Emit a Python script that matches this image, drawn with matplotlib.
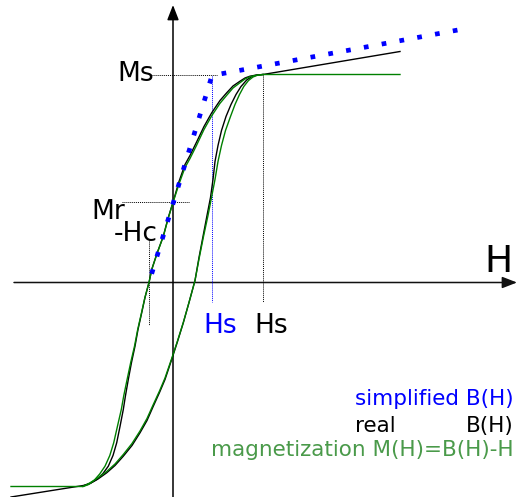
import matplotlib
matplotlib.use("Agg")
import matplotlib.pyplot as plt

# ---- data (H, B in drawing units; origin at the axes crossing) ----
real_desc_H = [227, 90, 82, 77, 72, 67, 60, 53.7, 47, 38.7, 31, 23.7, 17, 12, 6, 0.3, -5, -9.7, -16,
               -21.3, -24, -28, -31.3, -35, -38, -41.5, -44.7, -47.5, -49.7, -53, -56.3, -60, -64.7,
               -70, -76.3, -83, -89.7, -162]
real_desc_B = [231, 208, 207.2, 206.3, 204.5, 201.3, 196.5, 189.7, 182, 169.7, 156, 140.7, 127, 118,
               101, 81.3, 64, 46.3, 29, 13, 0, -15, -30.3, -47, -63.7, -80, -97, -113, -127, -144,
               -160.3, -173, -183.7, -191, -197, -201, -203, -214.5]

real_asc_H = [-90, -83, -75, -66.3, -58, -49.7, -41, -33, -26, -19.7, -13.5, -8, -1.3, 4.5, 10.3, 16,
              22, 26, 30, 34, 37.5, 40, 42, 45, 48.5, 53, 58, 63, 68, 73.7, 79, 84, 90]
real_asc_B = [-203.5, -201, -196.5, -190.3, -183, -173.7, -163, -150.3, -138, -123.7, -110, -97, -77,
              -59, -40.3, -20, 2, 25, 46, 67, 85, 103, 121, 137, 152, 166, 178, 188, 196, 202.5, 206,
              207.5, 208]

mag_desc_H = [227, 90, 82, 77, 72, 67, 60, 53.7, 47, 38.7, 31, 23.7, 17, 12, 6, 0, -5, -9.7, -16,
              -21.2, -24, -28.1, -31.5, -35.3, -38.5, -42.3, -45.9, -49.2, -51.7, -55.6, -59.3, -63.2,
              -68, -73.3, -79, -85, -90, -162]
mag_desc_B = [208, 208, 207, 205.8, 203.5, 199.8, 194.5, 187.2, 179.2, 166.7, 153, 137.5, 124, 115,
              98.5, 80, 63.5, 46, 29, 13, 0, -15, -30.3, -47, -63.7, -80, -97, -113, -127, -144,
              -160.3, -173, -183.7, -191.5, -198, -202.3, -204, -204]

mag_asc_H = [-90, -83, -75, -66.3, -58, -49.7, -41, -33, -26, -19.7, -13.5, -8, -1.3, 4.5, 10.3, 16,
             22, 26.3, 30.5, 35, 38.5, 42, 45, 48.5, 52.5, 57.5, 62, 66.5, 70.8, 75.5, 80, 84.5, 90]
mag_asc_B = [-204, -200.3, -195.3, -189, -181.5, -172, -161, -148.5, -136, -122, -108.5, -95.5, -76,
             -58.5, -40, -20, 2, 25, 46, 67, 85, 103, 121, 137, 152, 166, 178, 188, 196, 202, 205.5,
             207.3, 208]

simpl_H = [-24, 39, 293]
simpl_B = [0, 207, 254]

Hc = -24
Hs_simpl = 39
Hs_real = 90
Ms = 208
Mr = 81

fig = plt.figure(figsize=(5.21, 4.97), dpi=100)
ax = fig.add_axes([0, 0, 1, 1])
ax.set_xlim(-173, 348)
ax.set_ylim(-214.5, 282.5)
ax.axis("off")

# axes with arrows
ax.annotate("", xy=(344, 0), xytext=(-159, 0),
            arrowprops=dict(arrowstyle="-|>,head_length=0.9,head_width=0.35", lw=1.1,
                            color="#111111", shrinkA=0, shrinkB=0), zorder=1)
ax.annotate("", xy=(0, 277.5), xytext=(0, -216),
            arrowprops=dict(arrowstyle="-|>,head_length=0.9,head_width=0.35", lw=1.1,
                            color="black", shrinkA=0, shrinkB=0), zorder=1)

# guide lines
dot = (0, (1, 1))
ax.plot([-21, 44], [Ms, Ms], color="black", lw=0.7, ls=dot)
ax.plot([-51, 16], [Mr, Mr], color="black", lw=0.7, ls=dot)
ax.plot([Hc, Hc], [43, -42], color="black", lw=0.7, ls=dot)
ax.plot([Hs_simpl, Hs_simpl], [Ms - 1, -19], color="blue", lw=0.7, ls=dot)
ax.plot([Hs_real, Hs_real], [Ms, -19], color="black", lw=0.7, ls=dot)

# curves
ax.plot(real_desc_H, real_desc_B, color="black", lw=1.0, zorder=3)
ax.plot(real_asc_H, real_asc_B, color="black", lw=1.0, zorder=3)
ax.plot(mag_desc_H, mag_desc_B, color="#008000", lw=1.0, zorder=4)
ax.plot(mag_asc_H, mag_asc_B, color="#008000", lw=1.0, zorder=4)

ax.plot(simpl_H, simpl_B, color="blue", lw=3.4, ls=(1.9, (1.0, 2.83)),
        dash_capstyle="butt", zorder=5)

# labels
lab = dict(fontsize=19, family="DejaVu Sans")
ax.text(-19, 201.5, "Ms", ha="right", va="baseline", **lab)
ax.text(-82, 63.5, "Mr", ha="left", va="baseline", **lab)
ax.text(-15, 41, "-Hc", ha="right", va="baseline", **lab)
ax.text(47, -50.5, "Hs", ha="center", va="baseline", color="blue", **lab)
ax.text(98, -50.5, "Hs", ha="center", va="baseline", color="black", **lab)
ax.text(339, 10.5, "H", ha="right", va="baseline", fontsize=27)

leg = dict(fontsize=15.5, va="baseline")
ax.text(341, 282.5 - 405, "simplified B(H)", ha="right", color="blue", **leg)
ax.text(182, 282.5 - 432, "real", ha="left", color="black", **leg)
ax.text(341, 282.5 - 432, "B(H)", ha="right", color="black", **leg)
ax.text(341, 282.5 - 456, "magnetization M(H)=B(H)-H", ha="right", color="#4a9a4a", **leg)

fig.savefig("out.png", dpi=100)
